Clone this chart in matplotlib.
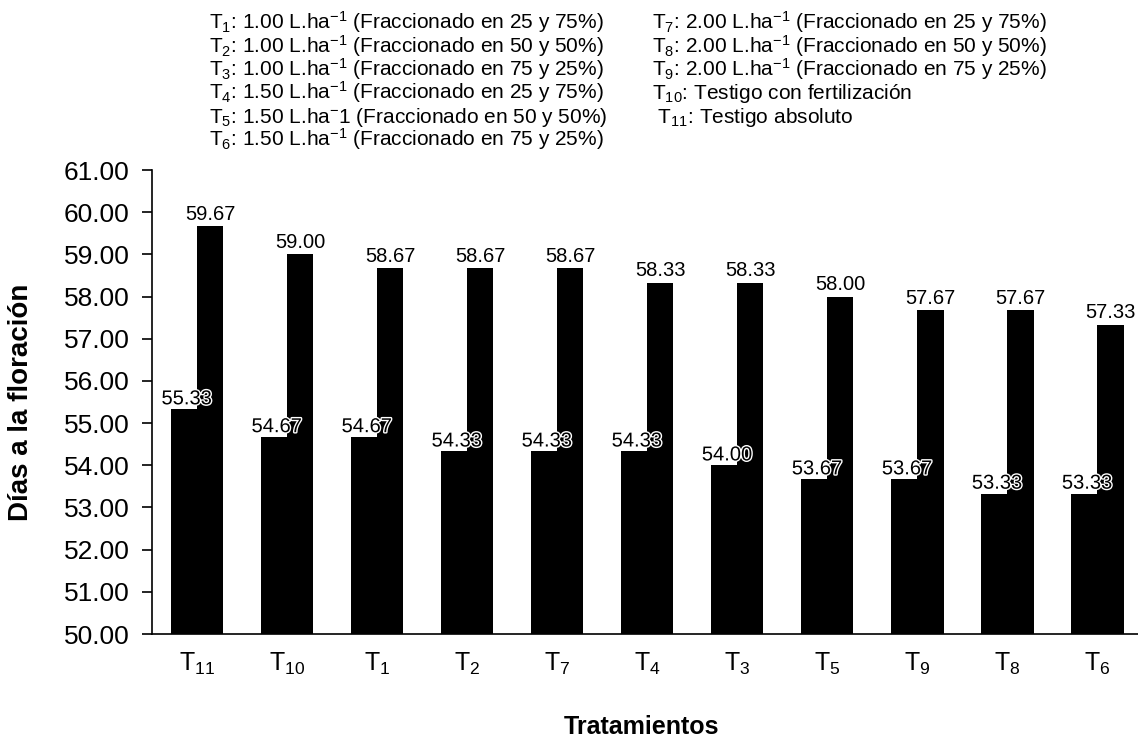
import matplotlib
matplotlib.use("Agg")
import numpy as np
import matplotlib.pyplot as plt
import matplotlib.patheffects as pe

plt.rcParams['font.family'] = ['Liberation Sans', 'DejaVu Sans']
plt.rcParams['mathtext.fontset'] = 'custom'
plt.rcParams['mathtext.rm'] = 'Liberation Sans'
plt.rcParams['mathtext.it'] = 'Liberation Sans'

# tratamientos ordenados por días a la floración
tratamientos = ['11', '10', '1', '2', '7', '4', '3', '5', '9', '8', '6']
serie_1 = [55.33, 54.67, 54.67, 54.33, 54.33, 54.33, 54.00, 53.67, 53.67, 53.33, 53.33]
serie_2 = [59.67, 59.00, 58.67, 58.67, 58.67, 58.33, 58.33, 58.00, 57.67, 57.67, 57.33]

leyenda_izq = [
    r'T$\mathregular{_1}$: 1.00 L.ha$\mathregular{^{-1}}$ (Fraccionado en 25 y 75%)',
    r'T$\mathregular{_2}$: 1.00 L.ha$\mathregular{^{-1}}$ (Fraccionado en 50 y 50%)',
    r'T$\mathregular{_3}$: 1.00 L.ha$\mathregular{^{-1}}$ (Fraccionado en 75 y 25%)',
    r'T$\mathregular{_4}$: 1.50 L.ha$\mathregular{^{-1}}$ (Fraccionado en 25 y 75%)',
    r'T$\mathregular{_5}$: 1.50 L.ha$\mathregular{^{-}}$1 (Fraccionado en 50 y 50%)',
    r'T$\mathregular{_6}$: 1.50 L.ha$\mathregular{^{-1}}$ (Fraccionado en 75 y 25%)',
]
leyenda_der = [
    r'T$\mathregular{_7}$: 2.00 L.ha$\mathregular{^{-1}}$ (Fraccionado en 25 y 75%)',
    r'T$\mathregular{_8}$: 2.00 L.ha$\mathregular{^{-1}}$ (Fraccionado en 50 y 50%)',
    r'T$\mathregular{_9}$: 2.00 L.ha$\mathregular{^{-1}}$ (Fraccionado en 75 y 25%)',
    r'T$\mathregular{_{10}}$: Testigo con fertilización',
    r' T$\mathregular{_{11}}$: Testigo absoluto',
]

W, H = 1138, 742
fig = plt.figure(figsize=(W / 100, H / 100), dpi=100)
ax = fig.add_axes([152 / W, 1 - 634 / H, 1 - 152 / W, (634 - 170) / H])

x = np.arange(len(tratamientos))
ancho = 0.29
ax.bar(x - ancho / 2, serie_1, ancho, color='black')
ax.bar(x + ancho / 2, serie_2, ancho, color='black')

ax.set_ylim(50, 61)
ax.set_xlim(-0.5, 10.45)
ax.set_yticks(np.arange(50, 62, 1))
ax.set_yticklabels([f'{v:.2f}' for v in np.arange(50, 62, 1)], fontsize=19)
ax.set_xticks(x)
ax.set_xticklabels([rf'T$\mathregular{{_{{{t}}}}}$' for t in tratamientos], fontsize=18)
ax.tick_params(axis='x', length=0, pad=12)
ax.tick_params(axis='y', length=7, width=1.2, direction='out', pad=9)
for s in ['top', 'right']:
    ax.spines[s].set_visible(False)
for s in ['left', 'bottom']:
    ax.spines[s].set_linewidth(1.2)

contorno = [pe.withStroke(linewidth=2, foreground='white')]
for xi, v in zip(x, serie_1):
    ax.text(xi - ancho / 2 + 0.03, v + 0.02, f'{v:.2f}', ha='center', va='bottom',
            fontsize=14.5, color='black', path_effects=contorno)
for xi, v in zip(x, serie_2):
    ax.text(xi + ancho / 2, v + 0.06, f'{v:.2f}', ha='center', va='bottom',
            fontsize=14.5, color='black')

fig.text(21 / W, 1 - 402 / H, 'Días a la floración', rotation=90, ha='center', va='center',
         fontsize=20, fontweight='bold')
fig.text(641 / W, 1 - 727 / H, 'Tratamientos', ha='center', va='center',
         fontsize=18, fontweight='bold')

paso = 23.4
for i, linea in enumerate(leyenda_izq):
    fig.text(209 / W, 1 - (29 + i * paso) / H, linea, ha='left', va='baseline', fontsize=15)
for i, linea in enumerate(leyenda_der):
    fig.text(652 / W, 1 - (29 + i * paso) / H, linea, ha='left', va='baseline', fontsize=15)

fig.savefig('out.png', dpi=100)
